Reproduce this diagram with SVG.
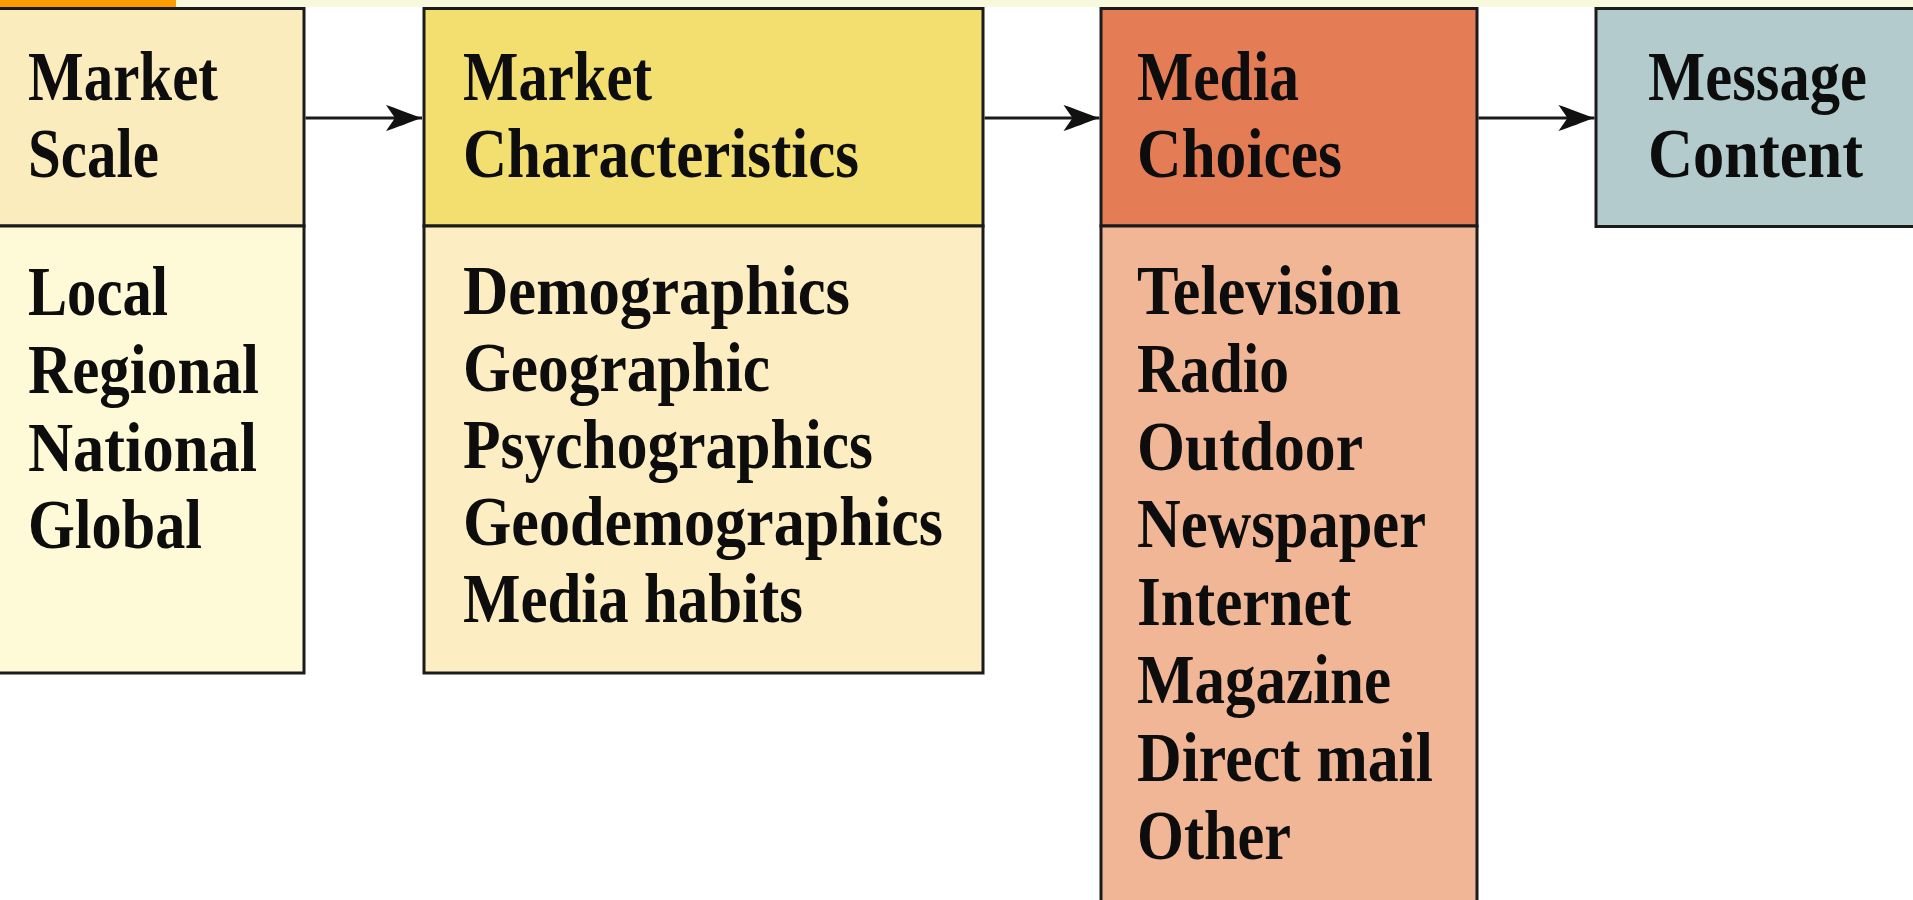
<svg xmlns="http://www.w3.org/2000/svg" width="1913" height="900" viewBox="0 0 1913 900">
  <style>
    .box { stroke: #1b1b1b; stroke-width: 3; }
    .lbl { font-family: "Liberation Serif", "Times New Roman", serif; font-weight: bold; font-size: 70px; fill: #0d0d0d; }
    .link { fill: none; stroke: #1b1b1b; stroke-width: 3; }
  </style>
  <defs>
    <marker id="head" viewBox="-38 -15 40 30" refX="0" refY="0" markerWidth="40" markerHeight="30" markerUnits="userSpaceOnUse" orient="auto">
      <path d="M0,0 C-12,-4 -26,-10 -36,-13 L-27,0 L-36,13 C-26,10 -12,4 0,0 Z" fill="#111"/>
    </marker>
  </defs>

  <rect x="0" y="0" width="1913" height="900" fill="#ffffff"/>
  <!-- top banner strip -->
  <rect x="0" y="0" width="1913" height="7" fill="#f7f8dc"/>
  <rect x="0" y="0" width="176" height="7" fill="#fb9b00"/>

  <g id="market-scale">
    <rect class="box" x="-4" y="8.5" width="308" height="217.5" fill="#fbecbe"/>
    <rect class="box" x="-4" y="226" width="308" height="447" fill="#fefad7"/>
    <text class="lbl" x="28" y="100" textLength="190" lengthAdjust="spacingAndGlyphs">Market</text>
    <text class="lbl" x="28" y="177" textLength="131" lengthAdjust="spacingAndGlyphs">Scale</text>
    <text class="lbl" x="28" y="315" textLength="140" lengthAdjust="spacingAndGlyphs">Local</text>
    <text class="lbl" x="28" y="393" textLength="231" lengthAdjust="spacingAndGlyphs">Regional</text>
    <text class="lbl" x="28" y="471" textLength="229" lengthAdjust="spacingAndGlyphs">National</text>
    <text class="lbl" x="28" y="548" textLength="174" lengthAdjust="spacingAndGlyphs">Global</text>
  </g>

  <g id="market-characteristics">
    <rect class="box" x="424" y="8.5" width="559" height="217.5" fill="#f2df70"/>
    <rect class="box" x="424" y="226" width="559" height="447" fill="#fcedc2"/>
    <text class="lbl" x="463" y="100" textLength="189" lengthAdjust="spacingAndGlyphs">Market</text>
    <text class="lbl" x="463" y="177" textLength="396" lengthAdjust="spacingAndGlyphs">Characteristics</text>
    <text class="lbl" x="463" y="314" textLength="387" lengthAdjust="spacingAndGlyphs">Demographics</text>
    <text class="lbl" x="463" y="391" textLength="307" lengthAdjust="spacingAndGlyphs">Geographic</text>
    <text class="lbl" x="463" y="468" textLength="410" lengthAdjust="spacingAndGlyphs">Psychographics</text>
    <text class="lbl" x="463" y="545" textLength="480" lengthAdjust="spacingAndGlyphs">Geodemographics</text>
    <text class="lbl" x="463" y="622" textLength="340" lengthAdjust="spacingAndGlyphs">Media habits</text>
  </g>

  <g id="media-choices">
    <rect class="box" x="1101" y="8.5" width="376" height="217.5" fill="#e47d56"/>
    <rect class="box" x="1101" y="226" width="376" height="690" fill="#f0b696"/>
    <text class="lbl" x="1137" y="100" textLength="162" lengthAdjust="spacingAndGlyphs">Media</text>
    <text class="lbl" x="1137" y="177" textLength="205" lengthAdjust="spacingAndGlyphs">Choices</text>
    <text class="lbl" x="1137" y="314" textLength="264" lengthAdjust="spacingAndGlyphs">Television</text>
    <text class="lbl" x="1137" y="392" textLength="152" lengthAdjust="spacingAndGlyphs">Radio</text>
    <text class="lbl" x="1137" y="470" textLength="226" lengthAdjust="spacingAndGlyphs">Outdoor</text>
    <text class="lbl" x="1137" y="547" textLength="289" lengthAdjust="spacingAndGlyphs">Newspaper</text>
    <text class="lbl" x="1137" y="625" textLength="214" lengthAdjust="spacingAndGlyphs">Internet</text>
    <text class="lbl" x="1137" y="703" textLength="254" lengthAdjust="spacingAndGlyphs">Magazine</text>
    <text class="lbl" x="1137" y="781" textLength="296" lengthAdjust="spacingAndGlyphs">Direct mail</text>
    <text class="lbl" x="1137" y="859" textLength="154" lengthAdjust="spacingAndGlyphs">Other</text>
  </g>

  <g id="message-content">
    <rect class="box" x="1596" y="8.5" width="330" height="218" fill="#b3cbcd"/>
    <text class="lbl" x="1648" y="100" textLength="219" lengthAdjust="spacingAndGlyphs">Message</text>
    <text class="lbl" x="1648" y="177" textLength="215" lengthAdjust="spacingAndGlyphs">Content</text>
  </g>

  <g id="connectors">
    <path class="link" d="M305.5,118 H422" marker-end="url(#head)"/>
    <path class="link" d="M984.5,118 H1099.5" marker-end="url(#head)"/>
    <path class="link" d="M1478.5,118 H1594.5" marker-end="url(#head)"/>
  </g>
</svg>
